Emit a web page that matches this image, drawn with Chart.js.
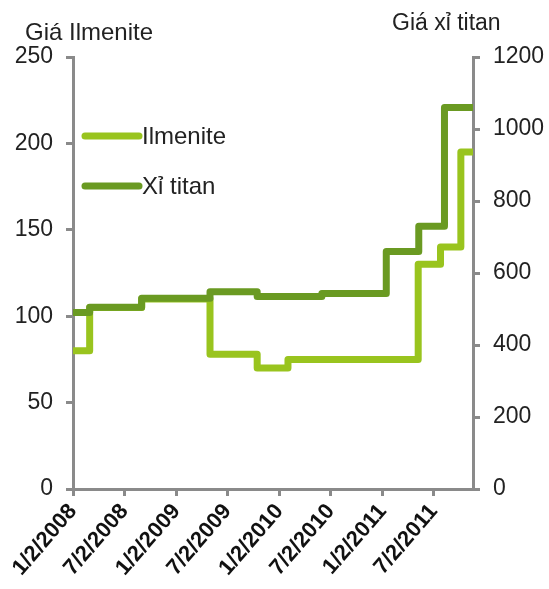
<!DOCTYPE html>
<html>
<head>
<meta charset="utf-8">
<script src="https://cdn.jsdelivr.net/npm/chart.js@4"></script>
<style>
  html, body { margin: 0; padding: 0; background: #fff; }
</style>
</head>
<body>
<canvas id="lineChart" width="549" height="589"></canvas>
<script>
// Trục thời gian
const startDate = '2008-01-02';
const endDate = '2011-11-18';
const tickDates = ['2008-01-02', '2008-07-02', '2009-01-02', '2009-07-02', '2010-01-02', '2010-07-02', '2011-01-02', '2011-07-02'];
const tickLabels = ['1/2/2008', '7/2/2008', '1/2/2009', '7/2/2009', '1/2/2010', '7/2/2010', '1/2/2011', '7/2/2011'];

// Giá Ilmenite (trục trái) - ngày đổi giá và giá mới
const ilmeniteDates = ['2008-01-02', '2008-03-01', '2008-09-01', '2009-05-01', '2009-10-15', '2010-02-01', '2011-05-08', '2011-07-26', '2011-10-06', '2011-11-18'];
const ilmeniteValues = [80, 105, 110, 78, 70, 75, 130, 140, 195, 195];

// Giá xỉ titan (trục phải)
const xiTitanDates = ['2008-01-02', '2008-03-01', '2008-09-01', '2009-05-01', '2009-10-15', '2010-06-01', '2011-01-15', '2011-05-10', '2011-08-09', '2011-11-18'];
const xiTitanValues = [490, 505, 530, 548, 535, 543, 660, 730, 1060, 1060];

const axisColor = '#8a8a8a';
const textColor = '#222';
const lightGreen = '#99c41e';
const darkGreen = '#6a9a22';

Chart.defaults.font.family = "'Liberation Sans', Arial, sans-serif";

// số ngày tính từ ngày đầu
const dayOf = d => (Date.parse(d) - Date.parse(startDate)) / 86400000;
const toPoints = (dates, values) => dates.map((d, i) => ({ x: dayOf(d), y: values[i] }));

// Chú thích đặt trong vùng vẽ + tiêu đề hai trục
const labelsPlugin = {
    id: 'labelsPlugin',
    afterDraw(chart) {
        const { ctx, chartArea } = chart;
        ctx.save();
        chart.data.datasets.forEach((ds, i) => {
            const y = chartArea.top + 79 + i * 50;
            ctx.strokeStyle = ds.borderColor;
            ctx.lineWidth = 7;
            ctx.lineCap = 'round';
            ctx.beginPath();
            ctx.moveTo(chartArea.left + 12, y);
            ctx.lineTo(chartArea.left + 66, y);
            ctx.stroke();
            ctx.fillStyle = textColor;
            ctx.font = "24px 'Liberation Sans', Arial, sans-serif";
            ctx.textBaseline = 'middle';
            ctx.fillText(ds.label, chartArea.left + 69, y + 1);
        });
        ctx.textBaseline = 'alphabetic';
        ctx.font = "24px 'Liberation Sans', Arial, sans-serif";
        ctx.fillText('Giá Ilmenite', chartArea.left - 48, chartArea.top - 17);
        ctx.font = "23px 'Liberation Sans', Arial, sans-serif";
        ctx.fillText('Giá xỉ titan', chartArea.right - 81, chartArea.top - 27);
        ctx.restore();
    }
};

const ctxLine = document.getElementById('lineChart').getContext('2d');
const lineChart = new Chart(ctxLine, {
    type: 'line',
    data: {
        datasets: [{
            label: 'Ilmenite',
            data: toPoints(ilmeniteDates, ilmeniteValues),
            borderColor: lightGreen,
            borderWidth: 7,
            borderJoinStyle: 'round',
            pointRadius: 0,
            stepped: true,
            yAxisID: 'y',
            order: 1
        }, {
            label: 'Xỉ titan',
            data: toPoints(xiTitanDates, xiTitanValues),
            borderColor: darkGreen,
            borderWidth: 7,
            borderJoinStyle: 'round',
            pointRadius: 0,
            stepped: true,
            yAxisID: 'y1',
            order: 0
        }]
    },
    options: {
        responsive: false,
        animation: false,
        layout: { padding: { top: 57, right: 0, bottom: 0, left: 0 } },
        plugins: {
            legend: { display: false },
            tooltip: { enabled: false }
        },
        scales: {
            x: {
                type: 'linear',
                min: 0,
                max: dayOf(endDate),
                afterBuildTicks: s => { s.ticks = tickDates.map(d => ({ value: dayOf(d) })); },
                afterFit: s => { s.height = 100; },
                grid: { drawOnChartArea: false, color: axisColor, lineWidth: 3, tickLength: 7 },
                border: { color: axisColor, width: 3 },
                ticks: {
                    autoSkip: false,
                    minRotation: 49,
                    maxRotation: 49,
                    padding: 3,
                    color: '#111',
                    font: { size: 22, weight: 'bold' },
                    callback: (v, i) => tickLabels[i]
                }
            },
            y: {
                position: 'left',
                min: 0,
                max: 250,
                afterFit: s => { s.width = 73; },
                grid: { drawOnChartArea: false, color: axisColor, lineWidth: 3, tickLength: 7 },
                border: { color: axisColor, width: 3 },
                ticks: { stepSize: 50, padding: 13, color: textColor, font: { size: 23 }, callback: v => String(v) }
            },
            y1: {
                position: 'right',
                min: 0,
                max: 1200,
                afterFit: s => { s.width = 76; },
                grid: { drawOnChartArea: false, color: axisColor, lineWidth: 3, tickLength: 7 },
                border: { color: axisColor, width: 3 },
                ticks: { stepSize: 200, padding: 13, color: textColor, font: { size: 23 }, callback: v => String(v) }
            }
        }
    },
    plugins: [labelsPlugin]
});
</script>
</body>
</html>
